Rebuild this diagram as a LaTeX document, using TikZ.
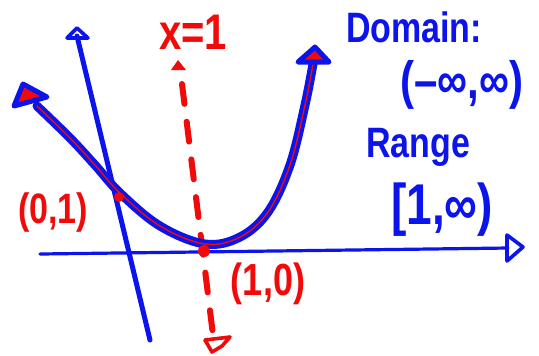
\documentclass[tikz,border=0pt]{standalone}
\usepackage{fontspec}
\usepackage{graphicx}
\setmainfont{Liberation Sans}
\definecolor{pblue}{RGB}{10,20,235}
\definecolor{pred}{RGB}{240,10,10}
\newcommand{\tallt}[1]{\scalebox{1}[1.25]{#1}}
\tikzset{
  axisline/.style={pblue, line width=2pt, line cap=round, line join=round},
  curveouter/.style={pblue, line width=4.5pt, line cap=round, line join=round},
  curveinner/.style={pred, line width=0.7pt, line cap=round, line join=round},
  tipouter/.style={pblue, line width=2.5pt, line join=round, fill=pred},
  redline/.style={pred, line width=3pt, line cap=round},
  redtext/.style={pred, font=\bfseries\fontsize{17}{20}\selectfont, inner sep=0pt},
  bluetext/.style={pblue, font=\bfseries\fontsize{17}{20}\selectfont, inner sep=0pt},
  dotred/.style={pred, fill=pred, circle, inner sep=0pt, minimum size=5pt},
}
\begin{document}
\begin{tikzpicture}[x=0.5pt,y=-0.5pt]
\useasboundingbox[fill=white] (0,0) rectangle (539,355);
% x-axis
\coordinate (xs) at (40,254);
\coordinate (xe) at (508,248);
\draw[axisline, line width=1.6pt] (xs) -- (xe);
\draw[axisline, line width=1.8pt] (507,235) -- (523,247) -- (507,261) -- cycle;
% y-axis
\coordinate (ys) at (150,340);
\coordinate (ye) at (77,36);
\draw[axisline, line width=2.5pt] (ys) -- (ye);
\draw[axisline, line width=1.8pt] (67,38) -- (77,28) -- (88,38) -- cycle;
% red dashed x=1
\coordinate (rs) at (182,84);
\coordinate (re) at (213,335);
\draw[redline, dash pattern=on 10pt off 9pt] (rs) -- (re);
\fill[pred] (171,70) -- (178,60) -- (186,70) -- cycle;
\draw[pred, line width=1.8pt, line join=round, line cap=round] (205,340) -- (212,352) -- (222,346) -- (230,337) -- (205,340);
% parabola
\coordinate (pl) at (37,106);
\coordinate (pr) at (313,64);
\draw[curveouter] plot[smooth, tension=0.6] coordinates {(37,106) (70,138) (95,165) (120,193) (160,226) (205,244) (240,237) (268,212) (290,165) (305,105) (313,64)};
\draw[curveinner] plot[smooth, tension=0.6] coordinates {(37,106) (70,138) (95,165) (120,193) (160,226) (205,244) (240,237) (268,212) (290,165) (305,105) (313,64)};
\draw[tipouter] (23,84) -- (14,106) -- (47,97) -- cycle;
\draw[tipouter] (315,47) -- (298,62) -- (329,62) -- cycle;
% points
\node[dotred] (p01) at (119,197) {};
\node[dotred, minimum size=6pt] (p10) at (204,251) {};
% labels
\node[redtext, font=\bfseries\fontsize{20}{22}\selectfont] (xeq) at (193,32) {\tallt{x=1}};
\node[redtext] (l01) at (53,213) {\tallt{(0,1)}};
\node[redtext, font=\bfseries\fontsize{18}{20}\selectfont] (l10) at (268,284) {\tallt{(1,0)}};
\node[bluetext] (dom) at (414,27) {\tallt{Domain:}};
\node[bluetext, font=\bfseries\fontsize{21}{24}\selectfont] (dint) at (462,85) {\tallt{(–∞,∞)}};
\node[bluetext] (rng) at (418,147) {\tallt{Range}};
\node[bluetext, font=\bfseries\fontsize{23}{26}\selectfont] (rint) at (442,210) {\tallt{[1,∞)}};
\end{tikzpicture}
\end{document}
